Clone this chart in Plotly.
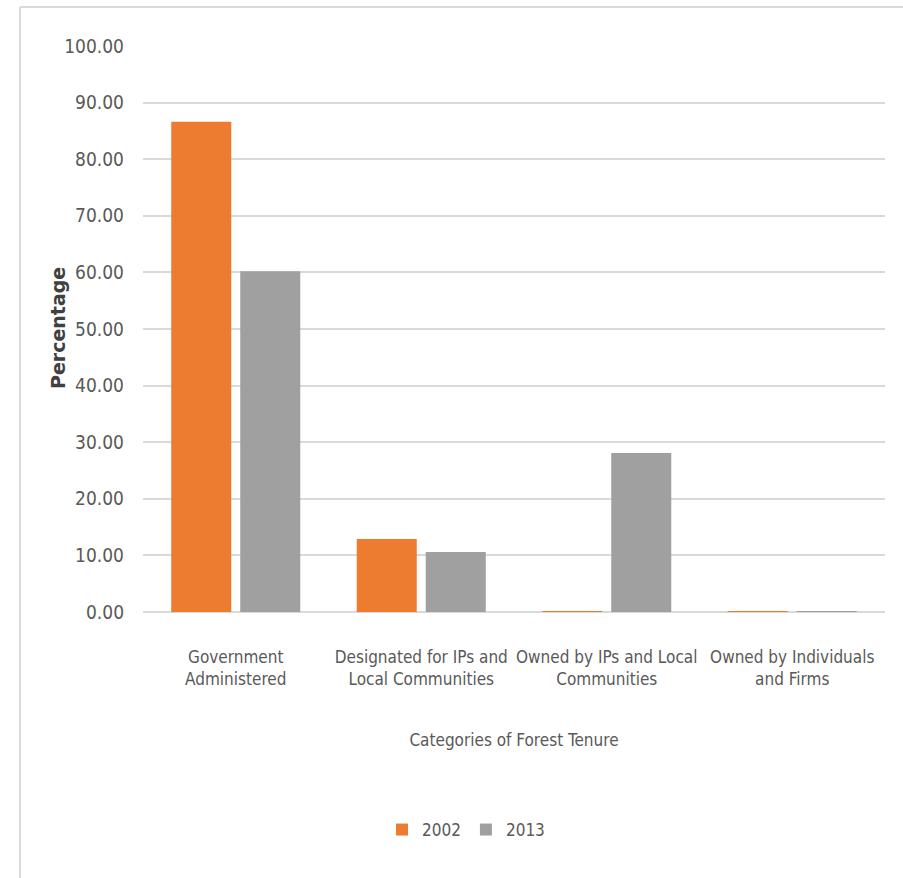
import plotly.graph_objects as go

categories = ["Government<br>Administered", "Designated for IPs and<br>Local Communities",
              "Owned by IPs and Local<br>Communities", "Owned by Individuals<br>and Firms"]
series_names = ["2002", "2013"]
values_2002 = [86.6, 12.9, 0.1, 0.1]
values_2013 = [60.2, 10.6, 28.1, 0.1]
y_ticks = [0, 10, 20, 30, 40, 50, 60, 70, 80, 90, 100]

FONT = "DejaVu Sans Condensed, Liberation Sans Narrow, Roboto Condensed, Arial Narrow, sans-serif"
colors = ["#EE7C30", "#A0A0A0"]

fig = go.Figure()
for name, vals, col in zip(series_names, [values_2002, values_2013], colors):
    fig.add_trace(go.Bar(x=categories, y=vals, name=name, marker=dict(color=col, line=dict(width=0))))

W, H = 903, 878
ml, mr, mt, mb = 143, 18, 46, 266
pw, ph = W - ml - mr, H - mt - mb

def px_to_paper_x(px):
    return (px - ml) / pw

def px_to_paper_y(py):
    return (H - mb - py) / ph

fig.update_layout(
    width=W, height=H,
    margin=dict(l=ml, r=mr, t=mt, b=mb, autoexpand=False),
    paper_bgcolor="white", plot_bgcolor="white",
    barmode="group", bargap=0.256, bargroupgap=0.13,
    font=dict(family=FONT, color="#595959", size=18),
    xaxis=dict(
        showgrid=False, showline=False, zeroline=False, ticks="", tickangle=0, automargin=False,
        ticklabelstandoff=33,
        tickfont=dict(family=FONT, size=17, color="#595959"),
        title=dict(text="Categories of Forest Tenure", font=dict(family=FONT, size=17, color="#595959"), standoff=46),
    ),
    yaxis=dict(
        range=[0, 100], tickvals=y_ticks, tickformat=".2f", automargin=False,
        showgrid=True, gridcolor="#D9D9D9", gridwidth=2,
        zeroline=True, zerolinecolor="#D9D9D9", zerolinewidth=2,
        showline=False, ticks="", ticklabelstandoff=18,
        tickfont=dict(family=FONT, size=19, color="#595959"),
    ),
    legend=dict(
        orientation="h", xanchor="center", yanchor="middle",
        x=px_to_paper_x(466), y=px_to_paper_y(830),
        font=dict(family=FONT, size=17, color="#595959"),
        traceorder="normal", itemwidth=30,
    ),
    showlegend=True,
)

# y-axis title
fig.add_annotation(text="<b>Percentage</b>", xref="paper", yref="paper",
                   x=px_to_paper_x(58), y=px_to_paper_y(328), textangle=-90,
                   showarrow=False, xanchor="center", yanchor="middle",
                   font=dict(family="DejaVu Sans, Verdana, sans-serif", size=19, color="#404040"))

# chart frame lines (top and left)
fig.add_shape(type="line", xref="paper", yref="paper",
              x0=px_to_paper_x(20), x1=px_to_paper_x(903), y0=px_to_paper_y(7), y1=px_to_paper_y(7),
              line=dict(color="#D9D9D9", width=2))
fig.add_shape(type="line", xref="paper", yref="paper",
              x0=px_to_paper_x(20), x1=px_to_paper_x(20), y0=px_to_paper_y(7), y1=px_to_paper_y(878),
              line=dict(color="#D9D9D9", width=2))

fig.write_html("out.html")
